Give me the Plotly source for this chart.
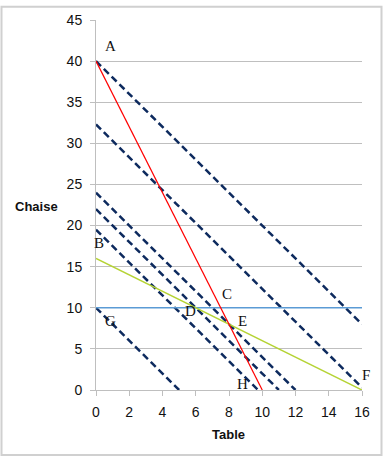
import plotly.graph_objects as go

# Data
red_x = [0, 10]
red_y = [40, 0]
green_x = [0, 16]
green_y = [16, 0]
blue_x = [0, 16]
blue_y = [10, 10]
dashed_lines = [
    ([0, 16], [40, 8]),
    ([0, 16], [32.3, 0.3]),
    ([0, 12], [24, 0]),
    ([0, 11], [22, 0]),
    ([0, 9.75], [19.5, 0]),
    ([0, 5], [10, 0]),
]
point_labels = ["A", "B", "C", "D", "E", "F", "G", "H"]
label_x = [0.9, 0.2, 7.9, 5.7, 8.8, 16.25, 0.85, 8.8]
label_y = [41.8, 17.9, 11.7, 9.6, 8.4, 1.8, 8.4, 0.7]
x_ticks = list(range(0, 17, 2))
y_ticks = list(range(0, 46, 5))
X_MAX, Y_MAX = 16, 45

fig = go.Figure()
for xs, ys in dashed_lines:
    fig.add_trace(go.Scatter(x=xs, y=ys, mode="lines",
                             line=dict(color="#0D2A5E", width=2.5, dash="7px,4px")))
fig.add_trace(go.Scatter(x=blue_x, y=blue_y, mode="lines",
                         line=dict(color="#5B9BD5", width=1.5)))
fig.add_trace(go.Scatter(x=green_x, y=green_y, mode="lines",
                         line=dict(color="#B5D334", width=1.5)))
fig.add_trace(go.Scatter(x=red_x, y=red_y, mode="lines",
                         line=dict(color="#FF0000", width=1.2)))

# point labels placed in paper coordinates (converted from data values) so
# labels just outside the axis range are still shown
for t, xx, yy in zip(point_labels, label_x, label_y):
    fig.add_annotation(xref="paper", yref="paper", x=xx / X_MAX, y=yy / Y_MAX,
                       xanchor="center", yanchor="middle",
                       text=t, showarrow=False,
                       font=dict(family="Liberation Serif", size=15, color="#111"))

fig.add_annotation(xref="paper", yref="paper", x=(36 - 96) / 266, y=(390 - 204) / 375,
                   xanchor="center", yanchor="middle",
                   text="<b>Chaise</b>", showarrow=False,
                   font=dict(family="Liberation Sans", size=13, color="#111"))
fig.add_annotation(xref="paper", yref="paper", x=(228 - 96) / 266, y=(390 - 435) / 375,
                   xanchor="center", yanchor="middle",
                   text="<b>Table</b>", showarrow=False,
                   font=dict(family="Liberation Sans", size=13, color="#111"))

fig.add_shape(type="rect", xref="paper", yref="paper",
              x0=(1.5 - 96) / 266, x1=(381.5 - 96) / 266,
              y0=(390 - 456) / 375, y1=(390 - 1.5) / 375,
              line=dict(color="#D0D0D0", width=2))

fig.update_layout(
    width=383, height=458,
    margin=dict(l=96, r=21, t=15, b=68),
    paper_bgcolor="white", plot_bgcolor="white",
    showlegend=False,
    font=dict(family="Liberation Sans", size=13, color="#222"),
)
fig.update_xaxes(range=[0, X_MAX], tickvals=x_ticks, showgrid=False,
                 showline=True, linecolor="#BFBFBF", linewidth=1,
                 ticks="outside", ticklen=5, tickcolor="#BFBFBF",
                 ticklabelstandoff=4,
                 zeroline=False, tickfont=dict(size=14, color="#111"))
fig.update_yaxes(range=[0, Y_MAX], tickvals=y_ticks, showgrid=True,
                 gridcolor="#BFBFBF", gridwidth=1,
                 showline=True, linecolor="#BFBFBF", linewidth=1,
                 ticks="outside", ticklen=5, tickcolor="#BFBFBF",
                 ticklabelstandoff=5,
                 zeroline=False, tickfont=dict(size=14, color="#111"))

fig.write_html("out.html", config={"displayModeBar": False},
               post_script="document.body.style.margin='0';document.body.style.overflow='hidden';")
